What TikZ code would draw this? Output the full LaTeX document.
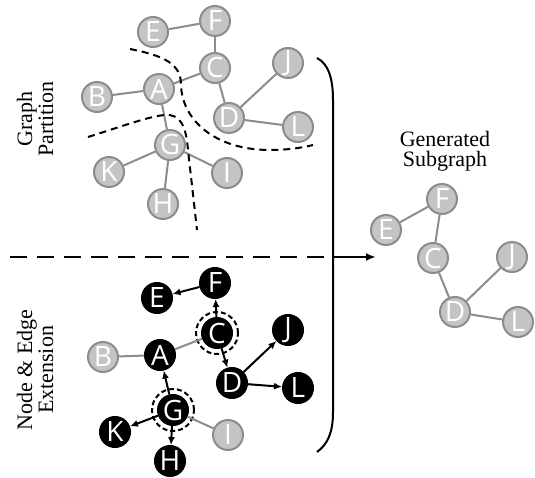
\documentclass[tikz,border=0pt]{standalone}
\usepackage{fontspec}
\setmainfont{Liberation Serif}
\newfontfamily\nodefont{Open Sans}
\usetikzlibrary{arrows.meta}

\begin{document}
\begin{tikzpicture}[x=1pt, y=-1pt,
                    gray node/.style={circle, inner sep=0pt, minimum size=30pt, fill=black!23, draw=black!45, line width=2pt, text=white, font=\nodefont\fontsize{28}{28}\selectfont},
                    black node/.style={gray node, fill=black, draw=black},
                    ring/.style={circle, minimum size=42pt, draw, dash pattern=on 5pt off 3pt, line width=2pt},
                    gray edge/.style={draw=black!45, line width=2pt},
                    ext edge/.style={draw=black, line width=2pt, -{Latex[length=8pt,width=7pt]}},
                    cut/.style={draw, line width=2pt, dash pattern=on 7pt off 5pt},
                    side label/.style={rotate=90, align=center, font=\fontsize{22}{21}\selectfont}
]
\useasboundingbox (0,0) rectangle (535,478);

% graph partition
\node [gray node] at (153,32) (pE) {E};
\node [gray node] at (215,21) (pF) {F};
\node [gray node] at (215,68) (pC) {C};
\node [gray node] at (288,63) (pJ) {J};
\node [gray node] at (97,97) (pB) {B};
\node [gray node] at (159,89) (pA) {A};
\node [gray node] at (229,118) (pD) {D};
\node [gray node] at (298,127) (pL) {L};
\node [gray node] at (170,145) (pG) {G};
\node [gray node] at (109,172) (pK) {K};
\node [gray node] at (227,173) (pI) {I};
\node [gray node] at (163,204) (pH) {H};
%
\draw [gray edge] (pE) -- (pF);
\draw [gray edge] (pF) -- (pC);
\draw [gray edge] (pC) -- (pA);
\draw [gray edge] (pB) -- (pA);
\draw [gray edge] (pA) -- (pG);
\draw [gray edge] (pC) -- (pD);
\draw [gray edge] (pD) -- (pJ);
\draw [gray edge] (pD) -- (pL);
\draw [gray edge] (pG) -- (pK);
\draw [gray edge] (pG) -- (pH);
\draw [gray edge] (pG) -- (pI);
%
\draw [cut] (130,49) .. controls (165,56) and (181,64) .. (181,85) .. controls (182,120) and (215,150) .. (270,150) .. controls (290,150) and (305,147) .. (313,145);
\draw [cut] (88,137) .. controls (120,127) and (150,116) .. (165,115) .. controls (180,114) and (186,125) .. (188,150) -- (197,230);

% node and edge extension
\node [black node] at (215,283) (eF) {F};
\node [black node] at (157,298) (eE) {E};
\node [black node] at (217,333) (eC) {C};
\node [black node] at (288,330) (eJ) {J};
\node [gray node] at (103,357) (eB) {B};
\node [black node] at (160,355) (eA) {A};
\node [black node] at (232,383) (eD) {D};
\node [black node] at (298,388) (eL) {L};
\node [black node] at (173,410) (eG) {G};
\node [black node] at (115,432) (eK) {K};
\node [gray node] at (228,435) (eI) {I};
\node [black node] at (170,461) (eH) {H};
\node [ring] at (eC) (rC) {};
\node [ring] at (eG) (rG) {};
%
\draw [gray edge] (eB) -- (eA);
\draw [gray edge] (eA) -- (eC);
\draw [gray edge] (eG) -- (eI);
\draw [ext edge] (eF) -- (eE);
\draw [ext edge] (eC) -- (eF);
\draw [ext edge] (eC) -- (eD);
\draw [ext edge] (eD) -- (eJ);
\draw [ext edge] (eD) -- (eL);
\draw [ext edge] (eG) -- (eA);
\draw [ext edge] (eG) -- (eK);
\draw [ext edge] (eG) -- (eH);

% generated subgraph
\node [gray node] at (442,199) (sF) {F};
\node [gray node] at (386,230) (sE) {E};
\node [gray node] at (433,258) (sC) {C};
\node [gray node] at (512,257) (sJ) {J};
\node [gray node] at (455,312) (sD) {D};
\node [gray node] at (518,322) (sL) {L};
%
\draw [gray edge] (sE) -- (sF);
\draw [gray edge] (sF) -- (sC);
\draw [gray edge] (sC) -- (sD);
\draw [gray edge] (sD) -- (sJ);
\draw [gray edge] (sD) -- (sL);

% labels, bracket, arrow
\node [side label] at (35,119) (lpart) {Graph\\Partition};
\node [side label] at (35,370) (lext) {Node \& Edge\\Extension};
\node [align=center, font=\fontsize{22}{20}\selectfont] at (445,151) (lsub) {Generated\\Subgraph};
%
\coordinate (brk) at (333,257);
\coordinate (arr) at (376,257);
\draw [line width=2pt, dash pattern=on 17pt off 10pt] (10,257) -- (brk);
\draw [line width=2pt] (317,58) .. controls (329,64) and (333,80) .. (333,100) -- (333,412) .. controls (333,432) and (328,444) .. (317,452);
\draw [line width=2pt, -{Latex[length=10pt,width=8pt]}] (brk) -- (arr);
\end{tikzpicture}
\end{document}
